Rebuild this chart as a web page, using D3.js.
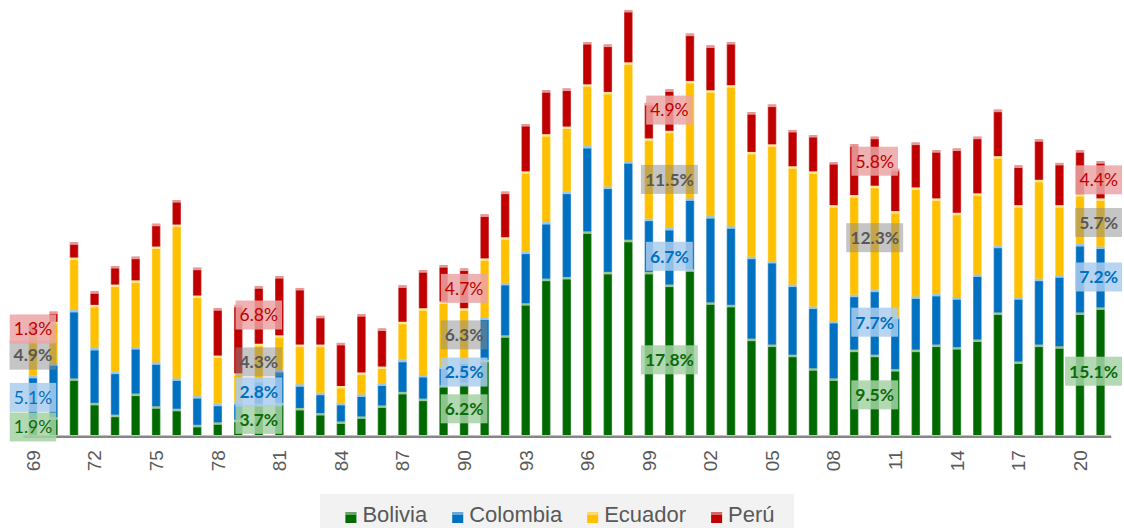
<!DOCTYPE html>
<html>
<head>
<meta charset="utf-8">
<script src="https://cdn.jsdelivr.net/npm/d3@7"></script>
<style>
  body { margin: 0; background: #fff; }
</style>
</head>
<body>
<div id="chart"></div>
<script>
const years = d3.range(1969, 2022);

// % values, one per year 1969..2021
const bolivia = [1.9, 2.1, 6.7, 3.8, 2.4, 4.9, 3.4, 3.1, 1.2, 1.5, 1.8, 3.7, 3.8, 3.2, 2.6, 1.6, 2.2, 3.5, 5.1, 4.3,
  5.9, 6.2, 8.9, 11.8, 15.6, 18.5, 18.7, 24.1, 19.3, 23.1, 19.3, 17.8, 19.6, 15.7, 15.4, 11.4, 10.7, 9.5, 7.9, 6.7,
  10.1, 9.5, 7.8, 10.1, 10.7, 10.4, 11.3, 14.5, 8.7, 10.7, 10.5, 14.5, 15.1];
const colombia = [5.1, 6.4, 8.1, 6.5, 5.1, 5.5, 5.2, 3.6, 3.4, 2.2, 2.1, 2.8, 3.9, 2.8, 2.4, 2.2, 2.6, 2.6, 3.8, 2.8,
  2.2, 2.5, 5.0, 6.2, 6.1, 6.7, 10.1, 10.1, 10.1, 9.3, 6.3, 6.7, 8.4, 10.2, 9.3, 9.7, 9.9, 8.3, 7.3, 6.8,
  6.5, 7.7, 6.2, 6.3, 6.0, 5.9, 7.7, 7.9, 7.6, 7.8, 8.4, 8.1, 7.2];
const ecuador = [4.9, 4.9, 6.2, 5.1, 10.3, 7.9, 13.7, 18.2, 11.9, 5.7, 3.4, 4.3, 4.1, 4.7, 5.7, 2.0, 2.6, 2.0, 4.5, 7.9,
  7.7, 6.3, 7.0, 5.4, 9.5, 10.4, 7.7, 7.3, 11.2, 11.7, 9.5, 11.5, 13.9, 14.9, 16.7, 12.4, 13.8, 14.0, 16.0, 13.7,
  11.8, 12.3, 12.5, 12.9, 11.3, 10.0, 9.6, 10.6, 10.9, 11.7, 8.3, 5.9, 5.7];
const peru = [1.3, 1.2, 1.8, 1.6, 2.2, 2.8, 2.7, 2.9, 3.3, 5.6, 8.1, 6.8, 7.0, 6.7, 3.4, 5.1, 6.9, 4.5, 4.3, 4.5,
  4.3, 4.7, 5.2, 5.4, 5.6, 5.2, 4.5, 5.0, 5.6, 6.2, 4.2, 4.9, 5.6, 5.3, 5.1, 4.7, 4.7, 4.3, 4.3, 5.1,
  6.0, 5.8, 5.0, 5.3, 5.7, 7.6, 6.7, 5.5, 4.7, 4.8, 5.0, 5.2, 4.4];

const countries = ["Bolivia", "Colombia", "Ecuador", "Perú"];
const labelYears = [1969, 1980, 1990, 2000, 2010, 2021];

const colors = { Bolivia: "#006a00", Colombia: "#0070c0", Ecuador: "#ffc000", "Perú": "#c00000" };
const boxFill = { Bolivia: "#a6d2a6", Colombia: "#aacdee", Ecuador: "#8c8c8c", "Perú": "#eba4a4" };
const boxOpacity = { Bolivia: 0.85, Colombia: 0.85, Ecuador: 0.5, "Perú": 0.85 };
const textFill = { Bolivia: "#0b6b0b", Colombia: "#0070c0", Ecuador: "#595959", "Perú": "#c00000" };

const W = 1124, H = 528;
const BASE = 435;

const svg = d3.select("#chart").append("svg")
  .attr("width", W)
  .attr("height", H);

const x = d3.scaleBand().domain(years).range([22.7, 1110.8]).paddingInner(0.58).paddingOuter(0.29);
const y = d3.scaleLinear().domain([0, 50]).range([BASE, BASE - 50 * 8.45]);

// gradients so the bars get the lighter edges seen in the picture
const defs = svg.append("defs");
countries.forEach((c, i) => {
  const base = d3.color(colors[c]);
  const light = d3.interpolateRgb(colors[c], "#fff")(0.35);
  const gr = defs.append("linearGradient").attr("id", "g" + i).attr("x1", 0).attr("x2", 1).attr("y1", 0).attr("y2", 0);
  gr.append("stop").attr("offset", "0%").attr("stop-color", light);
  gr.append("stop").attr("offset", "14%").attr("stop-color", base);
  gr.append("stop").attr("offset", "86%").attr("stop-color", base);
  gr.append("stop").attr("offset", "100%").attr("stop-color", light);
});

const rows = years.map((yr, i) => ({
  year: yr,
  Bolivia: bolivia[i],
  Colombia: colombia[i],
  Ecuador: ecuador[i],
  "Perú": peru[i],
}));

const series = d3.stack().keys(countries)(rows);

const layers = svg.append("g")
  .selectAll("g")
  .data(series)
  .join("g");

layers.selectAll("rect.seg")
  .data((s, i) => s.map((d) => ({ d, i })))
  .join("rect")
  .attr("class", "seg")
  .attr("x", (o) => x(o.d.data.year))
  .attr("y", (o) => y(o.d[1]))
  .attr("width", x.bandwidth())
  .attr("height", (o) => y(o.d[0]) - y(o.d[1]))
  .attr("fill", (o) => `url(#g${o.i})`);

// light band on top of every segment
layers.selectAll("rect.hi")
  .data((s) => s)
  .join("rect")
  .attr("class", "hi")
  .attr("x", (d) => x(d.data.year))
  .attr("y", (d) => y(d[1]))
  .attr("width", x.bandwidth())
  .attr("height", 2.5)
  .attr("fill", "#fff")
  .attr("opacity", 0.6);

// X axis
const xAxis = d3.axisBottom(x)
  .tickValues(years.filter((d, i) => i % 3 === 0))
  .tickFormat((d) => String(d).slice(2))
  .tickSize(0)
  .tickSizeOuter(0);

const xg = svg.append("g")
  .attr("transform", `translate(0, ${BASE + 1.2})`)
  .call(xAxis);

xg.select(".domain").attr("stroke", "#868686").attr("stroke-width", 2.5);
xg.selectAll(".tick text")
  .attr("font-family", "'Liberation Sans', Arial, sans-serif")
  .attr("font-size", 19)
  .attr("fill", "#595959")
  .attr("transform", "rotate(-90)")
  .attr("text-anchor", "end")
  .attr("x", -14)
  .attr("y", 0)
  .attr("dy", "0.36em");

// data labels for the selected years
const labelData = [];
series.forEach((s) => {
  s.forEach((d) => {
    if (labelYears.includes(d.data.year)) {
      labelData.push({ key: s.key, year: d.data.year, value: d.data[s.key], mid: (d[0] + d[1]) / 2 });
    }
  });
});

const labels = svg.append("g")
  .selectAll("g")
  .data(labelData)
  .join("g");

labels.append("text")
  .attr("text-anchor", "middle")
  .attr("dy", "0.36em")
  .attr("font-family", "Lato, 'Open Sans', sans-serif")
  .attr("font-size", 17.5)
  .attr("font-weight", (d) => (d.key === "Perú" || (d.year === 1969 && d.key !== "Ecuador") ? "normal" : "bold"))
  .attr("fill", (d) => textFill[d.key])
  .text((d) => d.value.toFixed(1) + "%");

labels.each(function (d) {
  const g = d3.select(this);
  const tw = g.select("text").node().getComputedTextLength();
  const bw = tw + 8;
  // keep the box inside the picture
  const cxl = Math.min(x(d.year) + x.bandwidth() / 2, W - 2 - bw / 2);
  g.attr("transform", `translate(${cxl}, ${y(d.mid)})`);
  g.insert("rect", "text")
    .attr("x", -bw / 2)
    .attr("y", -14.5)
    .attr("width", bw)
    .attr("height", 29)
    .attr("fill", boxFill[d.key])
    .attr("opacity", boxOpacity[d.key]);
});

// Legend
const legend = svg.append("g");
legend.append("rect")
  .attr("x", 320)
  .attr("y", 494)
  .attr("width", 474)
  .attr("height", 34)
  .attr("fill", "#f2f2f2");

const items = legend.selectAll("g.item")
  .data(countries)
  .join("g")
  .attr("class", "item");

items.append("text")
  .attr("x", 17)
  .attr("y", 522)
  .attr("font-family", "'Liberation Sans', Arial, sans-serif")
  .attr("font-size", 22)
  .attr("fill", "#595959")
  .text((d) => d);

items.append("rect")
  .attr("x", 0)
  .attr("y", 512)
  .attr("width", 11)
  .attr("height", 11)
  .attr("fill", (d) => colors[d]);

items.append("rect")
  .attr("x", 0)
  .attr("y", 512)
  .attr("width", 11)
  .attr("height", 3)
  .attr("fill", "#fff")
  .attr("opacity", 0.4);

let cx = 0;
const offs = [];
items.each(function () {
  offs.push(cx);
  cx += 17 + d3.select(this).select("text").node().getComputedTextLength() + 25;
});
const total = cx - 25;
const startX = 560 - total / 2;
items.attr("transform", (d, i) => `translate(${startX + offs[i]}, 0)`);
</script>
</body>
</html>
